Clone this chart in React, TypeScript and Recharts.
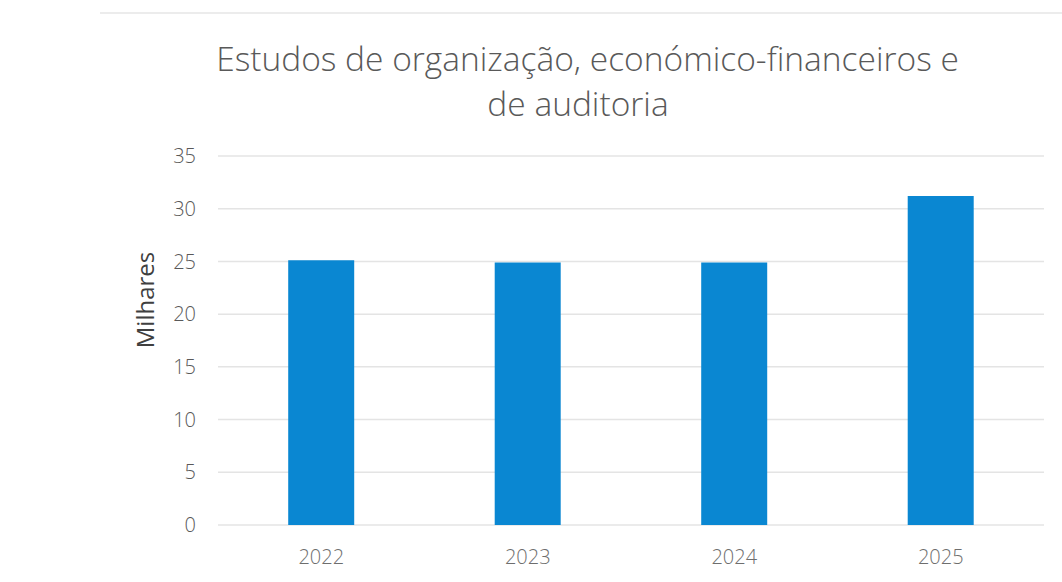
import React from "react";
import { BarChart, Bar, XAxis, YAxis, CartesianGrid } from "recharts";

const years = ["2022", "2023", "2024", "2025"];
const valuesThousands = [25.1, 24.9, 24.9, 31.2];
const yTicks = [0, 5, 10, 15, 20, 25, 30, 35];

const data = years.map((year, i) => ({ year, value: valuesThousands[i] }));

const FONT = "'Open Sans', 'DejaVu Sans', sans-serif";

const App: React.FC = () => {
  return (
    <div
      style={{
        position: "absolute",
        left: 0,
        top: 0,
        width: 1062,
        height: 582,
        background: "#fff",
        overflow: "hidden",
        fontFamily: FONT,
      }}
    >
      {/* faint chart border line at the top */}
      <div
        style={{
          position: "absolute",
          left: 100,
          top: 12,
          width: 962,
          height: 0,
          borderTop: "2px solid #ececec",
        }}
      />

      <div
        style={{
          position: "absolute",
          left: 0,
          width: 1175,
          top: 38,
          textAlign: "center",
          fontSize: 33.5,
          fontWeight: 300,
          color: "#595959",
          whiteSpace: "nowrap",
          lineHeight: "40px",
        }}
      >
        Estudos de organização, económico-financeiros e
      </div>
      <div
        style={{
          position: "absolute",
          left: 0,
          width: 1156,
          top: 83,
          textAlign: "center",
          fontSize: 33.5,
          fontWeight: 300,
          color: "#595959",
          whiteSpace: "nowrap",
          lineHeight: "40px",
        }}
      >
        de auditoria
      </div>

      <div style={{ position: "absolute", left: 0, top: 0 }}>
        <BarChart
          width={1062}
          height={582}
          data={data}
          margin={{ top: 156, right: 18, bottom: 27, left: 0 }}
          barCategoryGap="34%"
        >
          <CartesianGrid vertical={false} stroke="#e4e4e4" strokeWidth={1.5} />
          <XAxis
            dataKey="year"
            height={30}
            axisLine={false}
            tickLine={false}
            tickSize={0}
            tickMargin={25}
            tick={{ fill: "#6e6e6e", fontSize: 20, fontFamily: FONT, fontWeight: 300 }}
          />
          <YAxis
            width={218}
            domain={[0, 35]}
            ticks={yTicks}
            interval={0}
            axisLine={false}
            tickLine={false}
            tickSize={0}
            tickMargin={22}
            tick={{ fill: "#595959", fontSize: 20, fontFamily: FONT, fontWeight: 300 }}
            label={{
              content: () => (
                <text
                  x={144}
                  y={300}
                  transform="rotate(-90 144 300)"
                  textAnchor="middle"
                  dominantBaseline="central"
                  fill="#3f3f3f"
                  fontSize={24}
                  fontFamily={FONT}
                >
                  Milhares
                </text>
              ),
            }}
          />
          <Bar dataKey="value" fill="#0a87d2" isAnimationActive={false} />
        </BarChart>
      </div>
    </div>
  );
};

export default App;
